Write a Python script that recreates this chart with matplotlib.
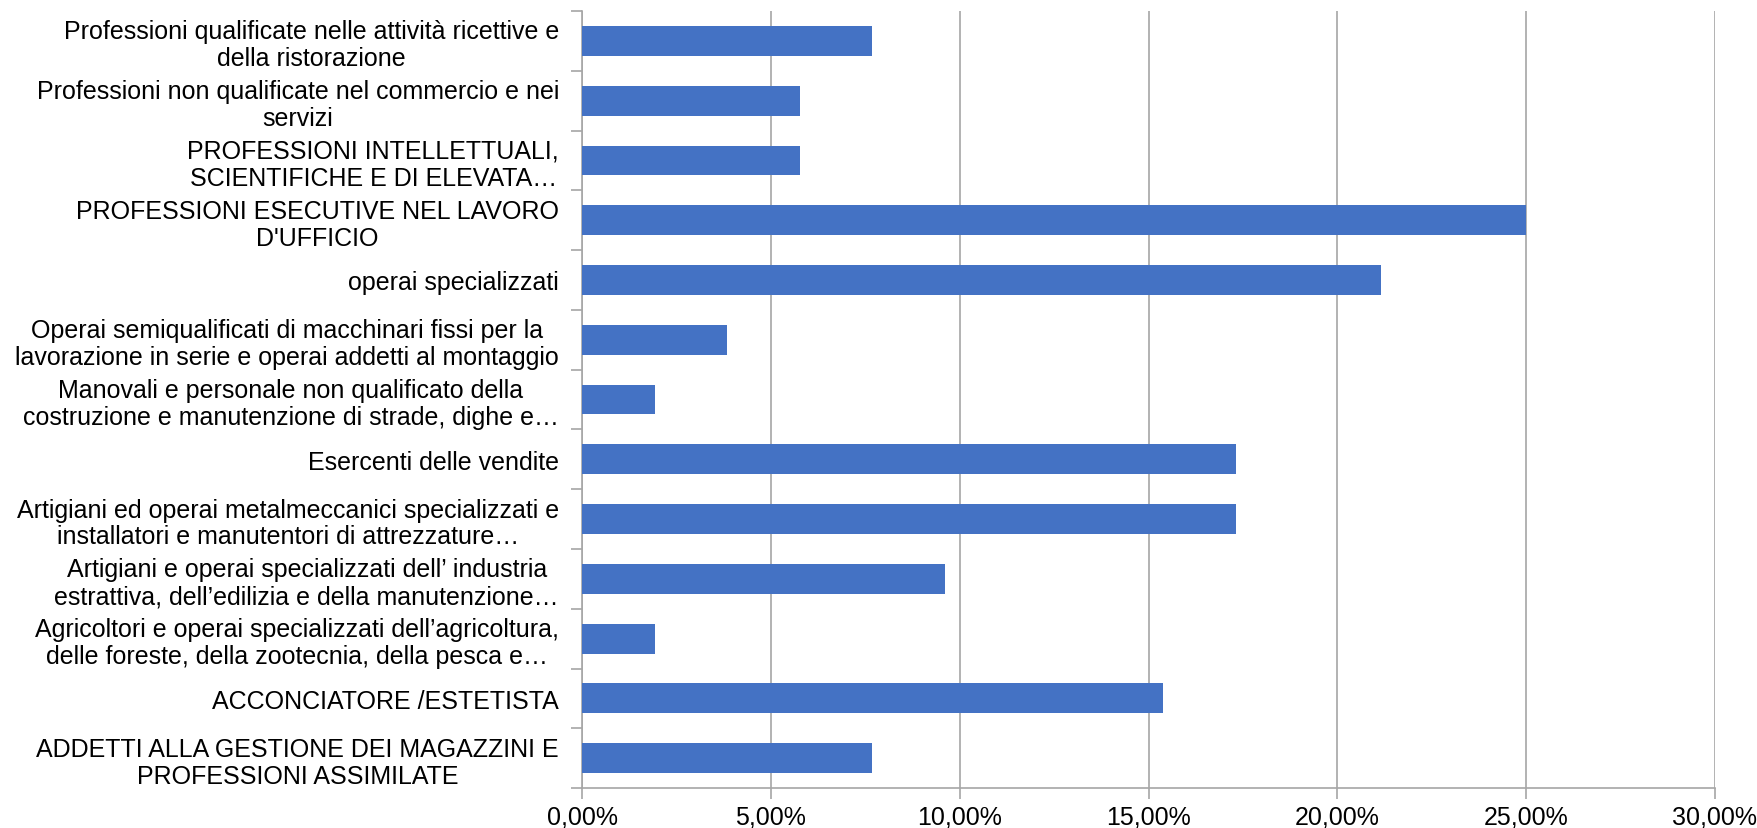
import numpy as np
import matplotlib
matplotlib.use("Agg")
import matplotlib.pyplot as plt
from matplotlib.ticker import FuncFormatter

plt.rcParams['font.family'] = ['Liberation Sans', 'DejaVu Sans']

# categories listed bottom -> top
categories = [
    "ADDETTI ALLA GESTIONE DEI MAGAZZINI E\nPROFESSIONI ASSIMILATE",
    "ACCONCIATORE /ESTETISTA",
    "Agricoltori e operai specializzati dell\u2019agricoltura,\ndelle foreste, della zootecnia, della pesca e\u2026",
    "Artigiani e operai specializzati dell\u2019 industria\nestrattiva, dell\u2019edilizia e della manutenzione\u2026",
    "Artigiani ed operai metalmeccanici specializzati e\ninstallatori e manutentori di attrezzature\u2026",
    "Esercenti delle vendite",
    "Manovali e personale non qualificato della\ncostruzione e manutenzione di strade, dighe e\u2026",
    "Operai semiqualificati di macchinari fissi per la\nlavorazione in serie e operai addetti al montaggio",
    "operai specializzati",
    "PROFESSIONI ESECUTIVE NEL LAVORO\nD'UFFICIO",
    "PROFESSIONI INTELLETTUALI,\nSCIENTIFICHE E DI ELEVATA\u2026",
    "Professioni non qualificate nel commercio e nei\nservizi",
    "Professioni qualificate nelle attivit\u00e0 ricettive e\ndella ristorazione",
]
values = [0.0769, 0.1538, 0.0192, 0.0962, 0.1731, 0.1731, 0.0192,
          0.0385, 0.2115, 0.25, 0.0577, 0.0577, 0.0769]

x_ticks = [0, 0.05, 0.10, 0.15, 0.20, 0.25, 0.30]

bar_color = "#4472C4"
grid_color = "#A6A6A6"

fig = plt.figure(figsize=(17.58, 8.29), dpi=100)
ax = fig.add_axes([0.3311, 0.0482, 0.6444, 0.9373])

y = np.arange(len(categories))
ax.barh(y, values, height=0.5, color=bar_color, zorder=3)

ax.set_xlim(0, 0.30)
ax.set_ylim(-0.5, len(categories) - 0.5)
ax.set_xticks(x_ticks)
ax.xaxis.set_major_formatter(FuncFormatter(lambda v, p: f"{v*100:.2f}%".replace(".", ",")))
ax.grid(axis="x", color=grid_color, linewidth=1.2, zorder=0)

ax.set_yticks(y)
ax.set_yticklabels(categories, ha="right", multialignment="center", linespacing=1.15)
ax.set_yticks(np.arange(-0.5, len(categories), 1), minor=True)
ax.tick_params(axis="y", which="major", length=0, pad=16.6, labelsize=18)
ax.tick_params(axis="y", which="minor", length=8, width=1.2, color=grid_color)
ax.tick_params(axis="x", length=8, width=1.2, color=grid_color, labelsize=18, pad=4)

for s in ["top", "right"]:
    ax.spines[s].set_visible(False)
for s in ["left", "bottom"]:
    ax.spines[s].set_color(grid_color)
    ax.spines[s].set_linewidth(1.2)

fig.savefig("out.png", dpi=100)
